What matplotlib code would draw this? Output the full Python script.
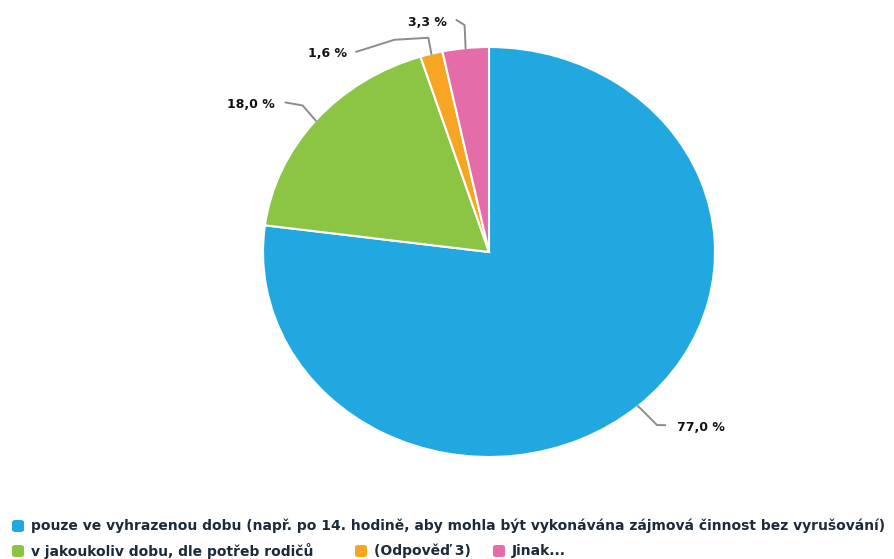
import matplotlib
matplotlib.use("Agg")
import matplotlib.pyplot as plt
from matplotlib.patches import FancyBboxPatch
import numpy as np

# data
labels = [
    "pouze ve vyhrazenou dobu (např. po 14. hodině, aby mohla být vykonávána zájmová činnost bez vyrušování)",
    "v jakoukoliv dobu, dle potřeb rodičů",
    "(Odpověď 3)",
    "Jinak...",
]
values = [77.0, 18.0, 1.6, 3.3]
colors = ["#22a8e0", "#8cc443", "#f8a523", "#e46ca9"]
pct_text = ["77,0 %", "18,0 %", "1,6 %", "3,3 %"]

W, H = 894, 559
fig = plt.figure(figsize=(W / 100, H / 100), dpi=100)

# pie box in pixels (left, top, right, bottom)
pl, pt, pr, pb = 263, 47, 715, 457
ax = fig.add_axes([pl / W, 1 - pb / H, (pr - pl) / W, (pb - pt) / H])
wedges, _ = ax.pie(values, colors=colors, startangle=90, counterclock=False,
                   wedgeprops=dict(edgecolor="white", linewidth=1.5))
ax.set_aspect("auto")
ax.set_xlim(-1, 1)
ax.set_ylim(-1, 1)
ax.axis("off")

# leader lines: elbow points in pixel offsets from the wedge edge point
elbows = [
    [(19, 19), (27, 19)],
    [(-13, -15), (-30, -18)],
    [(-3, -16), (-37, -14), (-75, -2)],
    [(-1, -23), (-9, -28)],
]
gaps = [12, -11, -9, -10]

def px_to_fig(x, y):
    return x / W, 1 - y / H

cx, cy = (pl + pr) / 2, (pt + pb) / 2
rx, ry = (pr - pl) / 2, (pb - pt) / 2
for w, el, txt, gap in zip(wedges, elbows, pct_text, gaps):
    ang = np.deg2rad((w.theta1 + w.theta2) / 2)
    ex = cx + rx * np.cos(ang)
    ey = cy - ry * np.sin(ang)
    xs = [ex] + [ex + dx for dx, dy in el]
    ys = [ey] + [ey + dy for dx, dy in el]
    fx, fy = zip(*[px_to_fig(x, y) for x, y in zip(xs, ys)])
    fig.add_artist(plt.Line2D(fx, fy, color="#8c8c8c", lw=1.4,
                              solid_joinstyle="round"))
    ha = "left" if gap > 0 else "right"
    fig.text(*px_to_fig(xs[-1] + gap, ys[-1] + 2), txt, ha=ha, va="center",
             fontsize=9, fontweight="bold", color="#111111")

# legend
leg_pos = [(18, 526), (18, 551), (361, 551), (499, 551)]
for (lx, ly), lab, c in zip(leg_pos, labels, colors):
    fx, fy = px_to_fig(lx - 6, ly + 6)
    fig.add_artist(FancyBboxPatch((fx, fy), 12 / W, 12 / H,
                                  boxstyle="round,pad=0,rounding_size=0.004",
                                  transform=fig.transFigure, facecolor=c,
                                  edgecolor="none"))
    fig.text(*px_to_fig(lx + 13, ly), lab, ha="left", va="center",
             fontsize=10, fontweight="bold", color="#1c2b3a")

fig.savefig("out.png", dpi=100)
